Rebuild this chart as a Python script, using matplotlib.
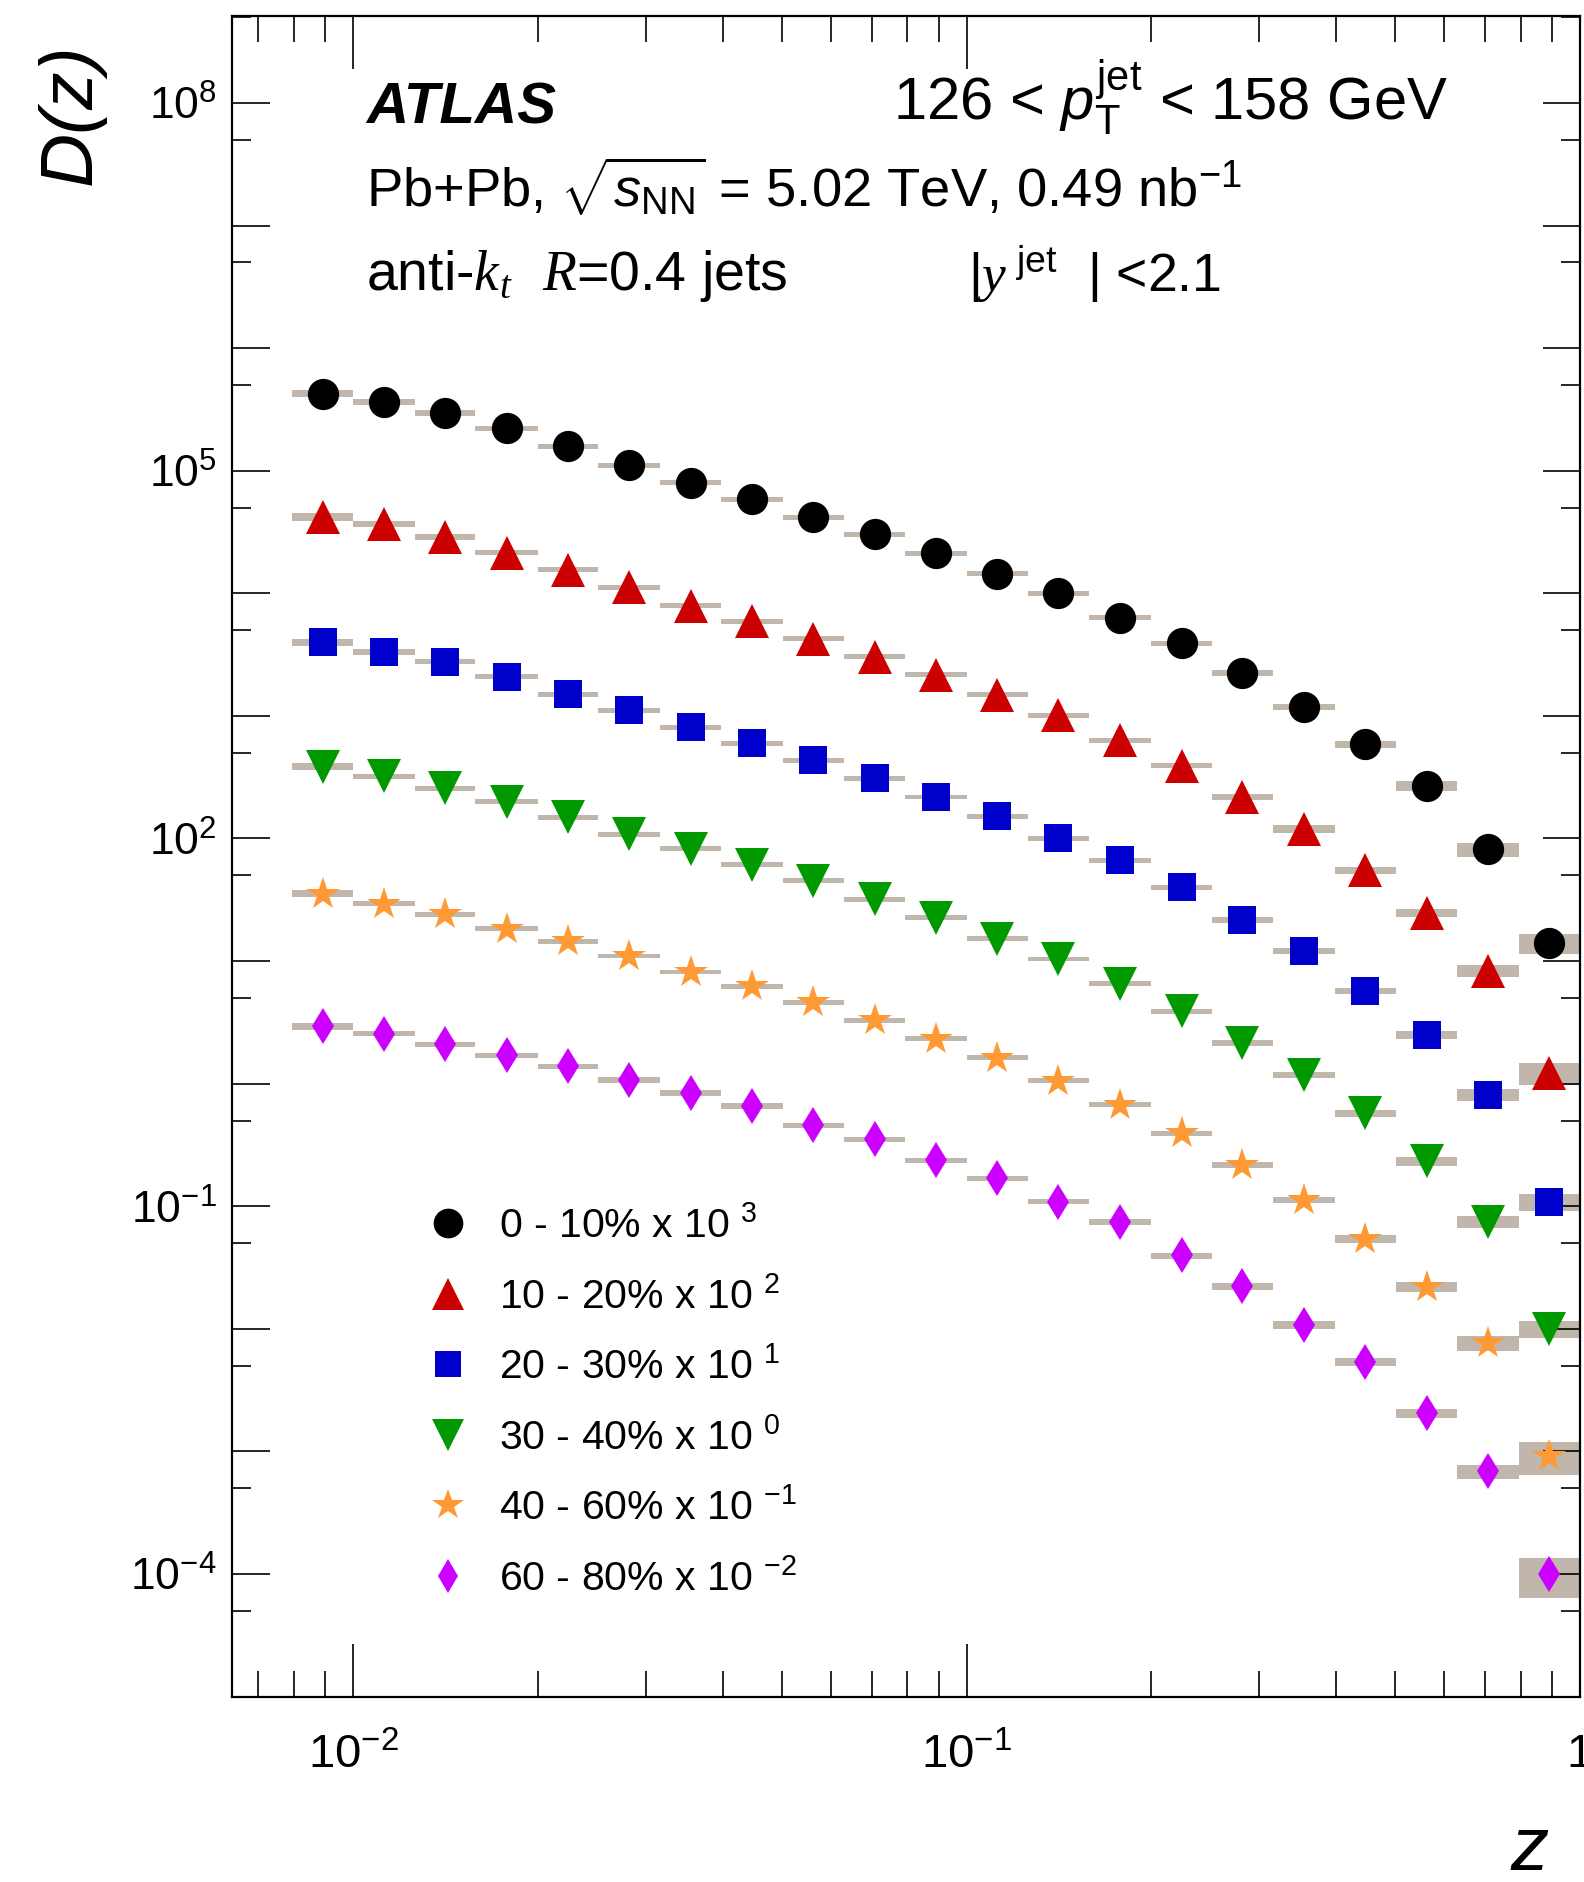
import matplotlib
matplotlib.use('Agg')
import matplotlib.pyplot as plt
from matplotlib.lines import Line2D
from matplotlib.ticker import FixedLocator, FuncFormatter, LogLocator, NullFormatter
import numpy as np

plt.rcParams['font.family'] = ['Liberation Sans', 'DejaVu Sans']
plt.rcParams['mathtext.fontset'] = 'custom'
plt.rcParams['mathtext.rm'] = 'Liberation Sans'
plt.rcParams['mathtext.it'] = 'Liberation Sans:italic'
plt.rcParams['mathtext.bf'] = 'Liberation Sans:bold'
plt.rcParams['mathtext.sf'] = 'Liberation Serif:italic'   # used for k_t, R, y

# z bin edges (log bins)
z_edges = [0.00794, 0.0100, 0.0126, 0.0158, 0.0200, 0.0251, 0.0316, 0.0398, 0.0501,
           0.0631, 0.0794, 0.100, 0.126, 0.158, 0.200, 0.251, 0.316, 0.398, 0.501,
           0.631, 0.794, 1.0]

# D(z) per centrality bin (unscaled)
d_0_10 = [425, 361, 294, 222, 158, 111, 79.8, 58.5, 41.7, 30.3, 21.2, 14.5, 10.0, 6.32,
          3.91, 2.25, 1.19, 0.590, 0.268, 0.0817, 0.0140]
d_10_20 = [419, 366, 290, 214, 156, 112, 79.3, 59.2, 42.7, 30.4, 21.7, 14.9, 10.1, 6.32,
           3.93, 2.19, 1.19, 0.551, 0.248, 0.0836, 0.0122]
d_20_30 = [398, 334, 277, 209, 151, 111, 81.1, 59.8, 43.4, 31.0, 21.8, 15.2, 10.0, 6.64,
           4.00, 2.15, 1.21, 0.570, 0.249, 0.0809, 0.0108]
d_30_40 = [386, 321, 258, 200, 149, 108, 82.6, 61.1, 45.3, 31.9, 22.6, 15.2, 10.4, 6.55,
           3.90, 2.14, 1.18, 0.574, 0.232, 0.0745, 0.0100]
d_40_60 = [355, 294, 241, 184, 145, 110, 81.5, 62.2, 46.1, 32.9, 23.3, 16.3, 10.6, 6.73,
           3.93, 2.16, 1.12, 0.542, 0.219, 0.0766, 0.00918]
d_60_80 = [294, 256, 209, 171, 139, 107, 83.9, 65.8, 45.8, 35.2, 23.7, 16.9, 10.9, 7.45,
           3.97, 2.22, 1.08, 0.538, 0.205, 0.0687, 0.0100]

# relative systematic uncertainties
sys_0_10 = [0.066, 0.056, 0.056, 0.05, 0.047, 0.045, 0.045, 0.045, 0.045, 0.045, 0.045,
            0.045, 0.045, 0.05, 0.053, 0.055, 0.06, 0.066, 0.094, 0.13, 0.19]
sys_10_20 = [0.075, 0.056, 0.056, 0.047, 0.047, 0.045, 0.045, 0.045, 0.045, 0.045, 0.045,
             0.045, 0.045, 0.047, 0.05, 0.056, 0.075, 0.07, 0.072, 0.116, 0.20]
sys_20_30 = [0.066, 0.06, 0.05, 0.047, 0.047, 0.045, 0.045, 0.045, 0.045, 0.045, 0.045,
             0.045, 0.045, 0.047, 0.05, 0.056, 0.06, 0.063, 0.072, 0.113, 0.16]
sys_30_40 = [0.06, 0.05, 0.047, 0.047, 0.047, 0.045, 0.045, 0.045, 0.045, 0.045, 0.045,
             0.045, 0.045, 0.047, 0.05, 0.056, 0.06, 0.066, 0.079, 0.113, 0.16]
sys_40_60 = [0.063, 0.05, 0.047, 0.047, 0.047, 0.045, 0.045, 0.045, 0.045, 0.045, 0.045,
             0.045, 0.045, 0.047, 0.05, 0.056, 0.056, 0.066, 0.094, 0.136, 0.30]
sys_60_80 = [0.069, 0.05, 0.05, 0.05, 0.05, 0.05, 0.05, 0.05, 0.05, 0.05, 0.05,
             0.05, 0.05, 0.05, 0.056, 0.066, 0.075, 0.079, 0.085, 0.136, 0.36]

cent_labels = ['0 - 10% x 10 $^{3}$', '10 - 20% x 10 $^{2}$', '20 - 30% x 10 $^{1}$',
               '30 - 40% x 10 $^{0}$', '40 - 60% x 10 $^{-1}$', '60 - 80% x 10 $^{-2}$']
scales = [1e3, 1e2, 1e1, 1e0, 1e-1, 1e-2]
series = [d_0_10, d_10_20, d_20_30, d_30_40, d_40_60, d_60_80]
systs = [sys_0_10, sys_10_20, sys_20_30, sys_30_40, sys_40_60, sys_60_80]

colors = ['#000000', '#cc0000', '#0000cc', '#009900', '#ff9933', '#cc00ff']
markers = ['o', '^', 's', 'v', '*', 'd']
msizes = [22.5, 24, 19.5, 24, 25, 18]
sys_color = '#c0b6ab'

fig = plt.figure(figsize=(15.84, 18.82), dpi=100)
ax = fig.add_axes([0.14646, 0.0983, 0.85101, 0.8932])

edges = np.array(z_edges)
lo, hi = edges[:-1], edges[1:]
zc = np.sqrt(lo * hi)

handles = []
for d, s, sc, col, m, msz in zip(series, systs, scales, colors, markers, msizes):
    y = np.array(d) * sc
    r = np.array(s)
    ax.bar(lo, 2 * y * r, width=hi - lo, bottom=y * (1 - r), align='edge',
           color=sys_color, linewidth=0, zorder=1)
    ax.plot(zc, y, ls='none', marker=m, ms=msz, color=col, mew=0, zorder=3)
    handles.append(Line2D([], [], ls='none', marker=m, ms=msz * 0.95, color=col, mew=0))

ax.set_xscale('log')
ax.set_yscale('log')
ax.set_xlim(0.00634, 1.0)
ax.set_ylim(9.93e-6, 5.12e8)

# ticks
ax.xaxis.set_major_locator(LogLocator(base=10, numticks=10))
ax.xaxis.set_minor_locator(LogLocator(base=10, subs=np.arange(2, 10), numticks=20))
ax.xaxis.set_minor_formatter(NullFormatter())
xlab = {-2: r'$10^{-2}$', -1: r'$10^{-1}$', 0: '1'}
ax.xaxis.set_major_formatter(FuncFormatter(
    lambda v, p: xlab.get(int(round(np.log10(v))), '')))

ax.yaxis.set_major_locator(FixedLocator([10.0 ** k for k in range(-5, 9)]))
ax.yaxis.set_minor_locator(FixedLocator([5 * 10.0 ** k for k in range(-6, 9)]))
ax.yaxis.set_minor_formatter(NullFormatter())
ylab = {8: r'$10^{8}$', 5: r'$10^{5}$', 2: r'$10^{2}$', -1: r'$10^{-1}$', -4: r'$10^{-4}$'}
ax.yaxis.set_major_formatter(FuncFormatter(
    lambda v, p: ylab.get(int(round(np.log10(v))), '')))

ax.tick_params(which='both', direction='in', top=True, right=True, width=1.2, color='black')
ax.tick_params(axis='x', which='major', length=38, pad=26, labelsize=34)
ax.tick_params(axis='x', which='minor', length=19)
ax.tick_params(axis='y', which='major', length=27, pad=11, labelsize=32)
ax.tick_params(axis='y', which='minor', length=14)
for sp in ax.spines.values():
    sp.set_linewidth(1.6)

# axis titles
fig.text(71 / 1584, 1 - 114 / 1882, 'D(z)', fontsize=54, style='italic',
         rotation=90, ha='center', va='center')
fig.text(1530 / 1584, 1 - 1870 / 1882, 'z', fontsize=55, style='italic',
         ha='center', va='baseline')

# labels
fig.text(366 / 1584, 1 - 123 / 1882, 'ATLAS', fontsize=42, weight='bold', style='italic',
         va='baseline')
fig.text(893 / 1584, 1 - 120 / 1882,
         r'126 < $p_{\mathrm{T}}^{\mathrm{jet}}$ < 158 GeV', fontsize=43, va='baseline')
fig.text(366 / 1584, 1 - 208 / 1882,
         r'Pb+Pb, $\sqrt{s_{\mathrm{NN}}}$ = 5.02 TeV, 0.49 nb$^{\mathrm{-1}}$',
         fontsize=39.2, va='baseline')
fig.text(366 / 1584, 1 - 290 / 1882,
         r'anti-$\mathsf{k}_{\mathsf{t}}$  $\mathsf{R}$=0.4 jets', fontsize=40, va='baseline')
fig.text(968 / 1584, 1 - 292 / 1882,
         r'|$\mathsf{y}^{\ \mathrm{jet}}$  | <2.1', fontsize=38.5, va='baseline')

ax.legend(handles, cent_labels, loc='upper left', bbox_to_anchor=(0.1451, 0.2922),
          frameon=False, fontsize=29.5, handlelength=1.0, handletextpad=0.74,
          labelspacing=0.75, borderpad=0, borderaxespad=0)

fig.savefig('out.png', dpi=100)
